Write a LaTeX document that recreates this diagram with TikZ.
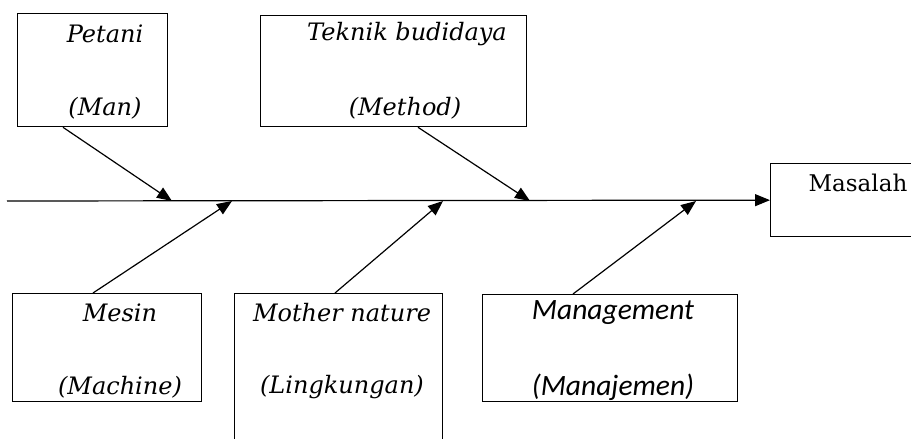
\documentclass[tikz,border=0pt]{standalone}
\usepackage{fontspec}
\setmainfont{DejaVu Serif}
\newfontfamily\calib{Carlito}
\usetikzlibrary{arrows.meta,calc}
\begin{document}
\begin{tikzpicture}[x=1pt,y=-1pt,
  box/.style={draw,line width=1.3pt,minimum width=#1,anchor=north west,inner sep=0pt},
  lbl/.style={font=\fontsize{24}{28}\selectfont\itshape,inner sep=0pt},
  mlbl/.style={font=\fontsize{29.5}{34}\selectfont\calib\itshape,inner sep=0pt},
  bone/.style={line width=1.2pt,-{Triangle[length=15pt,width=12pt]}}]
\useasboundingbox (0,0) rectangle (911,439);
% boxes
\node[box=150pt,minimum height=113pt] (petani) at (17,13) {};
\node[box=266pt,minimum height=111pt] (teknik) at (260,15) {};
\node[box=150pt,minimum height=73pt] (masalah) at (770,163) {};
\node[box=189pt,minimum height=108pt] (mesin) at (12,293) {};
\node[box=208pt,minimum height=160pt] (mother) at (234,293) {};
\node[box=255pt,minimum height=107pt] (manage) at (482,294) {};
% texts
\node[lbl] (t1) at (105,34) {Petani};
\node[lbl] (t2) at (105,108) {(Man)};
\node[lbl] (t3) at (407,34) {Teknik budidaya};
\node[lbl] (t4) at (405,108) {(Method)};
\node[font=\fontsize{23}{27}\selectfont,inner sep=0pt] (t5) at (858,183) {Masalah};
\node[lbl] (t6) at (120,313) {Mesin};
\node[lbl] (t7) at (120,387) {(Machine)};
\node[lbl] (t8) at (342,313) {Mother nature};
\node[lbl] (t9) at (342,387) {(Lingkungan)};
\node[mlbl] (t10) at (613,313) {Management};
\node[mlbl] (t11) at (613,387) {(Manajemen)};
% spine
\coordinate (s0) at (7,201);
\coordinate (a1) at (172,201);
\coordinate (a2) at (530,201);
\coordinate (b1) at (232,201);
\coordinate (b2) at (443,201);
\coordinate (b3) at (696,201);
\draw[bone] (s0) -- (masalah.west);
\draw[bone] ($(petani.south west)+(46,0)$) -- (a1);
\draw[bone] ($(teknik.south west)+(158,0)$) -- (a2);
\draw[bone] ($(mesin.north west)+(81,0)$) -- (b1);
\draw[bone] ($(mother.north west)+(101,0)$) -- (b2);
\draw[bone] ($(manage.north west)+(91,0)$) -- (b3);
\end{tikzpicture}
\end{document}
